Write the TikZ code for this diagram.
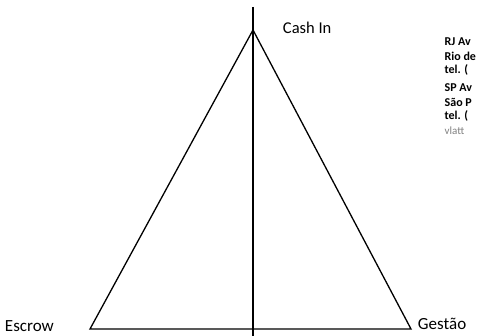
\documentclass[tikz,border=0pt]{standalone}
\usepackage{fontspec}
\setmainfont{Carlito}
\begin{document}
\begin{tikzpicture}[x=1pt, y=-1pt, line width=1.3pt]

    % Frame
    \useasboundingbox (0,0) rectangle (484,336);

    % Corners of the triangle
    \coordinate (top) at (253, 30);
    \coordinate (esc) at (90, 329);
    \coordinate (ges) at (411, 329);
    \coordinate (axtop) at (253, 7);
    \coordinate (axbot) at (253, 336);

    % Triangle and middle axis
    \draw[line join=miter] (esc) -- (top) -- (ges) -- cycle;
    \draw (axtop) -- (axbot);

    % Corner labels
    \node[anchor=west, font=\fontsize{16.5}{16.5}\selectfont] (cash) at (279, 28) {Cash In};
    \node[anchor=west, font=\fontsize{17}{17}\selectfont] (escrow) at (1, 326) {Escrow};
    \node[anchor=west, font=\fontsize{17}{17}\selectfont] (gestao) at (414, 324) {Gestão};

    % Address block, cut at the edge
    \begin{scope}
        \clip (0,0) rectangle (484,336);
        \foreach \y/\t in {42/RJ Av, 56/Rio de, 70/tel. (, 88/SP Av, 102/São P, 116/tel. (}
            \node[anchor=west, font=\fontsize{12}{12}\selectfont\bfseries, inner sep=0pt] at (444, \y) {\t};
        \node[anchor=west, font=\fontsize{11}{11}\selectfont, gray, inner sep=0pt] (mail) at (444, 131) {vlatt};
    \end{scope}

\end{tikzpicture}
\end{document}
